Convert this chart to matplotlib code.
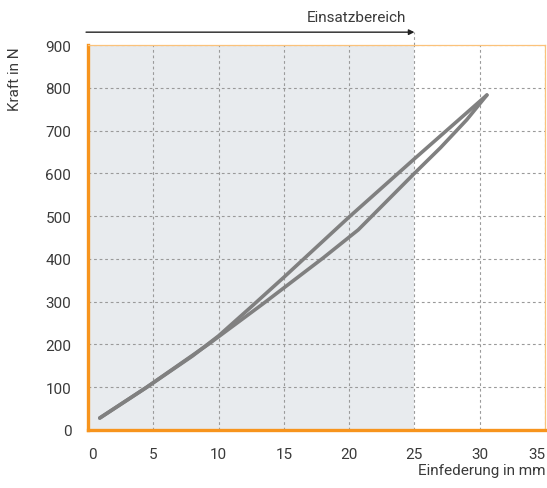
import matplotlib
matplotlib.use('Agg')
import matplotlib.pyplot as plt

plt.rcParams['font.family'] = ['Roboto', 'DejaVu Sans']

# Federweg in mm / Kraft in N
belastung_x = [0.9, 4.5, 9.2, 13.4, 18.0, 20.7, 25.0, 27.0, 29.0, 30.55]
belastung_y = [28, 100, 200, 295, 402, 468, 600, 660, 725, 783]
entlastung_x = [0.9, 4.5, 8.0, 10.0, 12.5, 15.0, 20.0, 25.0, 30.55]
entlastung_y = [28, 100, 173, 220, 288, 357, 498, 634, 783]

x_ticks = [0, 5, 10, 15, 20, 25, 30, 35]
y_ticks = [0, 100, 200, 300, 400, 500, 600, 700, 800, 900]
bereich_ende = 25

orange = '#f7941d'
textcol = '#3a3a3a'
gridcol = '#9a9a9a'
fs = 11

fig = plt.figure(figsize=(5.47, 4.89), dpi=100)
ax = fig.add_axes([88/547, 58/489, 457/547, 385/489])

ax.set_xlim(0, 35)
ax.set_ylim(0, 900)
ax.axvspan(0, bereich_ende, color='#e8ebee', zorder=0, lw=0)

ax.set_xticks(x_ticks)
ax.set_yticks(y_ticks)
ax.grid(True, linestyle=(0, (2.5, 2.5)), color=gridcol, lw=0.8)
ax.set_axisbelow(True)
ax.tick_params(length=0, labelsize=fs, colors=textcol)
ax.tick_params(axis='x', pad=12)
ax.tick_params(axis='y', pad=12)
labels = ax.get_xticklabels()
labels[-1].set_horizontalalignment('right')
labels[0].set_horizontalalignment('left')

for s in ['left', 'bottom']:
    ax.spines[s].set_color(orange)
    ax.spines[s].set_linewidth(2.4)
for s in ['top', 'right']:
    ax.spines[s].set_color('#fbc27a')
    ax.spines[s].set_linewidth(0.9)

ax.plot(belastung_x, belastung_y, color='#808080', lw=2.6,
        solid_capstyle='round', solid_joinstyle='round', zorder=3)
ax.plot(entlastung_x, entlastung_y, color='#808080', lw=2.6,
        solid_capstyle='round', solid_joinstyle='round', zorder=3)

# Einsatzbereich: Pfeil ueber dem Diagramm, Trennlinie bis zum Pfeil
ax.plot([bereich_ende, bereich_ende], [900, 930], color=gridcol, lw=0.8,
        linestyle=(0, (2.5, 2.5)), clip_on=False)
ax.annotate('', xy=(bereich_ende, 930), xytext=(-0.15, 930),
            arrowprops=dict(arrowstyle='-|>', color='#222222', lw=1.0,
                            mutation_scale=8, shrinkA=0, shrinkB=0),
            annotation_clip=False)
ax.text(24.4, 948, 'Einsatzbereich', ha='right', va='bottom', fontsize=fs,
        color=textcol, clip_on=False)

fig.text(15/547, 1 - 47/489, 'Kraft in N', rotation=90, ha='center', va='top',
         fontsize=fs, color=textcol)
fig.text(545/547, 1 - 471/489, 'Einfederung in mm', ha='right', va='center',
         fontsize=fs, color=textcol)

fig.savefig('out.png', dpi=100)
